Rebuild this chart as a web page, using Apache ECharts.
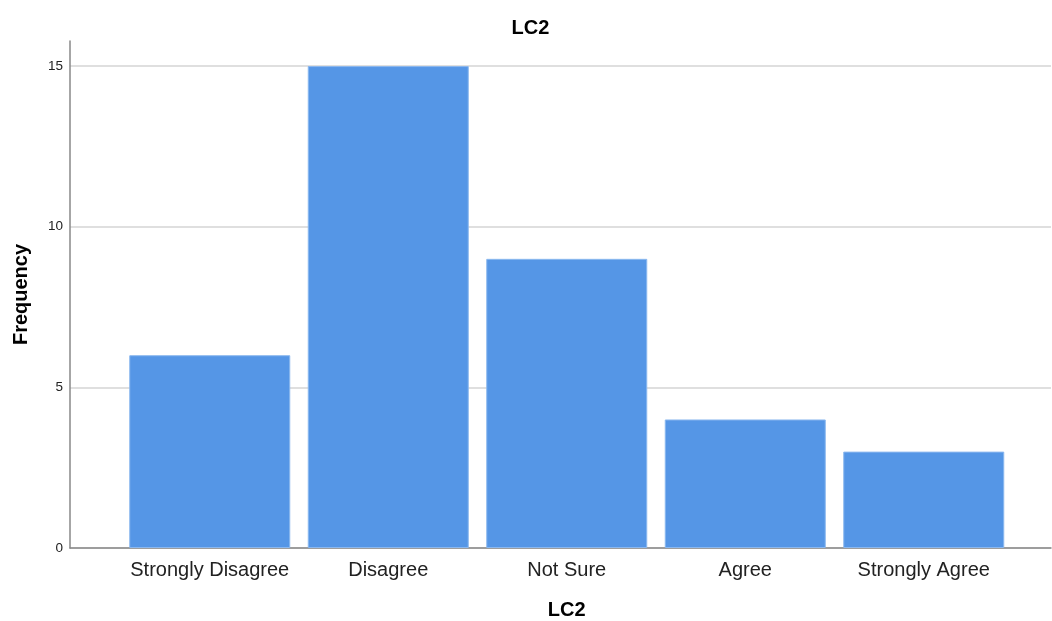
<!DOCTYPE html>
<html><head><meta charset="utf-8">
<script src="https://cdn.jsdelivr.net/npm/echarts@6/dist/echarts.min.js"></script>
<style>html,body{margin:0;padding:0;background:#fff}#c{width:1052px;height:621px}</style>
</head><body><div id="c"></div>
<script>
const categories = ['Strongly Disagree','Disagree','Not Sure','Agree','Strongly Agree'];
const frequencies = [6, 15, 9, 4, 3];
const yTicks = [0, 5, 10, 15];
const chartTitle = 'LC2';
const xName = 'LC2';
const yName = 'Frequency';

const font = 'Liberation Sans, Arial, sans-serif';
const chart = echarts.init(document.getElementById('c'));
const yMax = 15.78;
chart.setOption({
  animation: false,
  title: {text: chartTitle, left: 525.5, top: 13, textAlign: 'center',
    textStyle: {fontFamily: font, fontSize: 20, fontWeight: 'bold', color: '#000'}},
  grid: [
    {left: 70, right: 1, top: 41, bottom: 73, containLabel: false, outerBoundsMode: 'none'},
    {left: 120.5, width: 892.5, top: 41, bottom: 73, containLabel: false, outerBoundsMode: 'none'}
  ],
  xAxis: [
    {gridIndex: 0, type: 'category', data: [''], axisLine: {lineStyle: {color: '#888', width: 1.5}},
     axisTick: {show: false}, axisLabel: {show: false}},
    {gridIndex: 1, type: 'category', data: categories, axisLine: {show: false}, axisTick: {show: false},
     axisLabel: {fontFamily: font, fontSize: 20, color: '#222', margin: 12, interval: 0},
     name: xName, nameLocation: 'middle', nameGap: 52,
     nameTextStyle: {fontFamily: font, fontSize: 20, fontWeight: 'bold', color: '#000'}}
  ],
  yAxis: [
    {gridIndex: 0, type: 'value', min: 0, max: yMax, interval: 5,
     axisLine: {show: true, lineStyle: {color: '#888', width: 1.5}},
     axisTick: {show: false},
     axisLabel: {fontFamily: font, fontSize: 13.5, color: '#222', margin: 7, showMaxLabel: false,
       formatter: v => yTicks.includes(v) ? String(v) : ''},
     splitLine: {show: true, showMaxLine: false, lineStyle: {color: '#d4d4d4', width: 1.5}},
     name: yName, nameLocation: 'middle', nameGap: 39, nameRotate: 90,
     nameTextStyle: {fontFamily: font, fontSize: 20, fontWeight: 'bold', color: '#000'}},
    {gridIndex: 1, type: 'value', min: 0, max: yMax, show: false, splitLine: {show: false}}
  ],
  series: [{
    type: 'bar', xAxisIndex: 1, yAxisIndex: 1, data: frequencies, barWidth: 161,
    itemStyle: {color: '#5596E6', borderColor: '#8bb8ef', borderWidth: 1}
  }]
});
</script></body></html>
